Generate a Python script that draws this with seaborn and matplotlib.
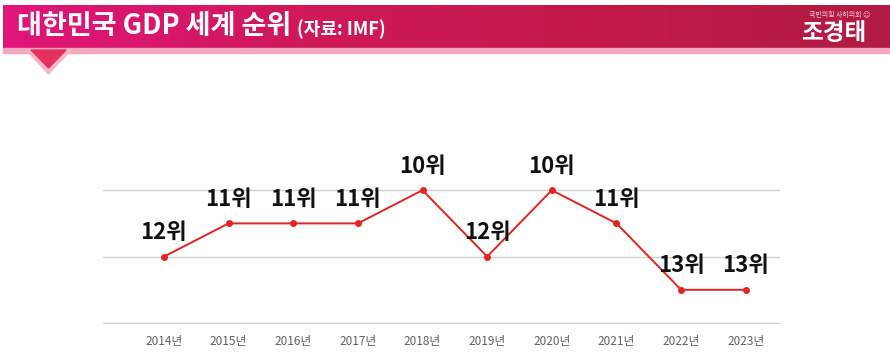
import numpy as np
import pandas as pd
import seaborn as sns
import matplotlib.pyplot as plt
from matplotlib.colors import LinearSegmentedColormap
from matplotlib.patches import Polygon, Rectangle

# 데이터
years = [2014, 2015, 2016, 2017, 2018, 2019, 2020, 2021, 2022, 2023]
ranks = [12, 11, 11, 11, 10, 12, 10, 11, 13, 13]
year_labels = [f'{y}년' for y in years]
rank_labels = [f'{r}위' for r in ranks]

title_main = '대한민국 GDP 세계 순위'
title_sub = '(자료: IMF)'

sns.set_style('white')
plt.rcParams['font.family'] = ['Noto Sans CJK KR', 'DejaVu Sans']

df = pd.DataFrame({'year': years, 'rank': ranks})

fig = plt.figure(figsize=(8.9, 3.63), dpi=100)

# 상단 헤더 (그라데이션 바)
hdr = fig.add_axes([3 / 890, 1 - 48 / 363, 887 / 890, 43 / 363])
cmap = LinearSegmentedColormap.from_list('hdr', ['#e0157a', '#d0185a', '#c41a4a', '#b01a44'])
hdr.imshow(np.linspace(0, 1, 256).reshape(1, -1), aspect='auto', cmap=cmap, extent=[0, 1, 0, 1])
hdr.set_xlim(0, 1)
hdr.set_ylim(0, 1)
hdr.axis('off')

# 헤더 아래 연한 띠와 삼각형
fig.patches.append(Rectangle((3 / 890, 1 - 53 / 363), 887 / 890, 5 / 363,
                             transform=fig.transFigure, color='#f2a9bf', zorder=1))
fig.patches.append(Polygon([(26 / 890, 1 - 50 / 363), (71 / 890, 1 - 50 / 363), (48.5 / 890, 1 - 74 / 363)],
                           closed=True, transform=fig.transFigure, color='#f7b6c8', zorder=2))
fig.patches.append(Polygon([(31 / 890, 1 - 50 / 363), (66 / 890, 1 - 50 / 363), (48.5 / 890, 1 - 68 / 363)],
                           closed=True, transform=fig.transFigure, color='#e4305e', zorder=3))

fig.text(17 / 890, 1 - 26 / 363, title_main, color='white', fontsize=19.5, fontweight='bold', va='center')
fig.text(297 / 890, 1 - 29 / 363, title_sub, color='white', fontsize=13, fontweight='bold', va='center')
fig.text(840 / 890, 1 - 15 / 363, '국민의힘 사하의회 ☺', color='#f6d0dc', fontsize=5, ha='center', va='center',
         family=['Noto Sans CJK KR', 'DejaVu Sans'])
fig.text(834 / 890, 1 - 33 / 363, '조경태', color='white', fontsize=17, fontweight='bold', ha='center', va='center')

# 본 차트
ax = fig.add_axes([103 / 890, 1 - 324 / 363, 677 / 890, 167 / 363])
sns.lineplot(data=df, x='year', y='rank', ax=ax, color='#e02424', linewidth=1.4,
             marker='o', markersize=5, markeredgewidth=0, clip_on=False)

ax.set_xlim(2013.057, 2023.53)
ax.set_ylim(14.03, 9)
ax.set_yticks([10, 12, 14])
ax.yaxis.grid(True, color='#cfcfcf', linewidth=1)
ax.set_yticklabels([])
ax.tick_params(axis='y', length=0)
ax.set_xticks(years)
ax.set_xticklabels(year_labels, fontsize=8.5, color='#606060')
ax.tick_params(axis='x', length=0, pad=8)
ax.set_xlabel('')
ax.set_ylabel('')
for s in ax.spines.values():
    s.set_visible(False)

for x, y, lab in zip(years, ranks, rank_labels):
    ax.annotate(lab, (x, y), xytext=(0, 9), textcoords='offset points', ha='center', va='bottom',
                fontsize=16, fontweight='bold', color='#111111', annotation_clip=False)

plt.savefig('out.png', dpi=100)
